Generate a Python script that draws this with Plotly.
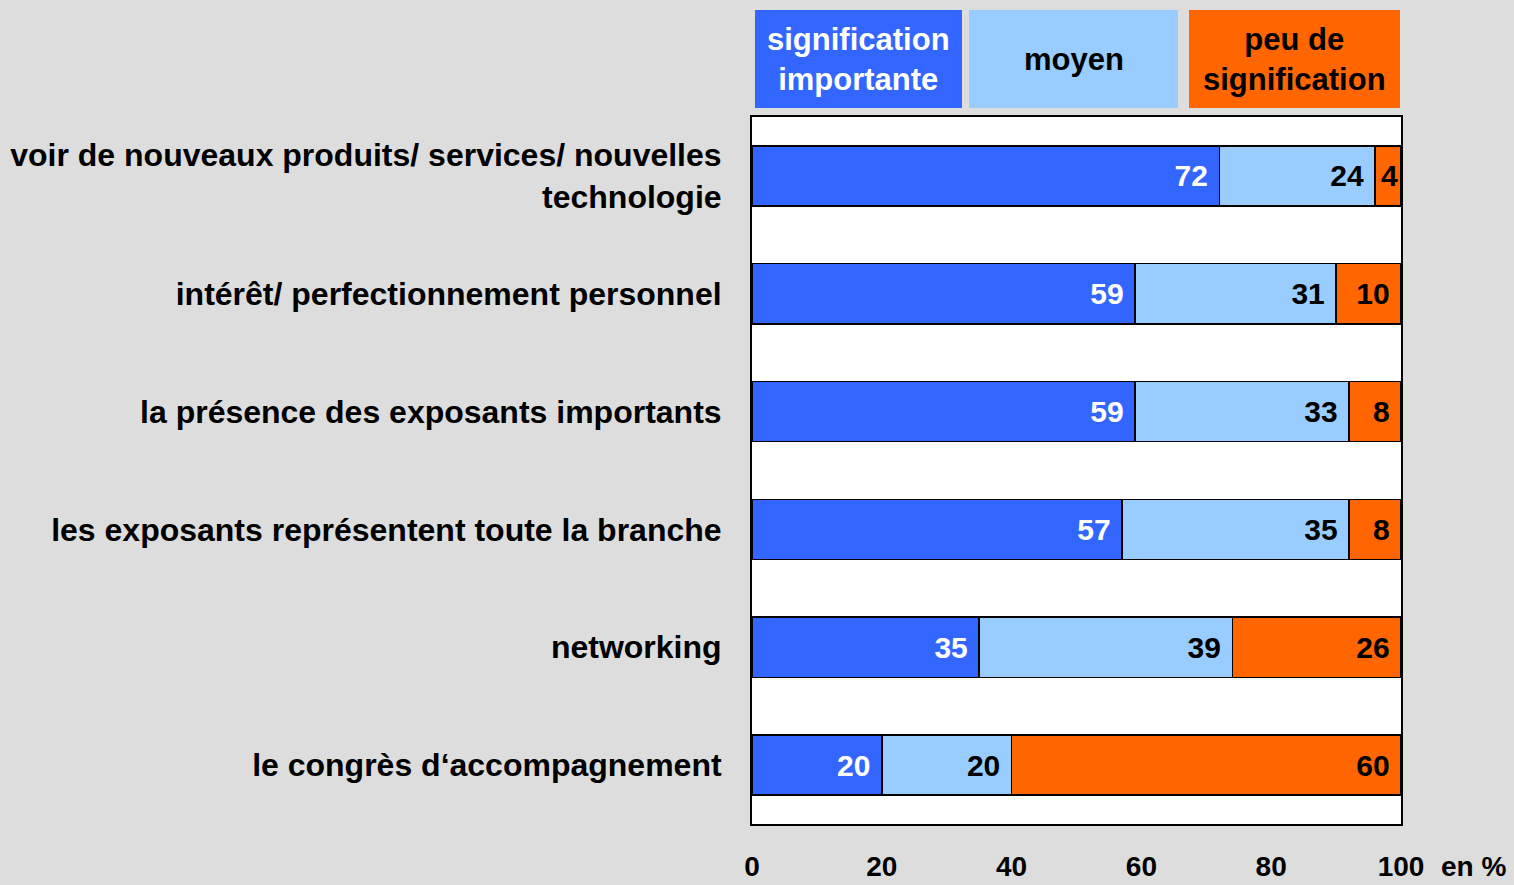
import plotly.graph_objects as go

categories = [
    "voir de nouveaux produits/ services/ nouvelles<br>technologie",
    "intérêt/ perfectionnement personnel",
    "la présence des exposants importants",
    "les exposants représentent toute la branche",
    "networking",
    "le congrès d‘accompagnement",
]
series_names = ["signification<br>importante", "moyen", "peu de<br>signification"]
important = [72, 59, 59, 57, 35, 20]
moyen = [24, 31, 33, 35, 39, 20]
peu = [4, 10, 8, 8, 26, 60]
x_ticks = [0, 20, 40, 60, 80, 100]
x_ticktext = ["0", "20", "40", "60", "80", "100"]

colors = ["#3366FF", "#99CCFF", "#FF6600"]
text_colors = ["white", "black", "black"]
FONT = "Liberation Sans, Arial, sans-serif"

fig = go.Figure()
for vals, name, col, tcol in zip([important, moyen, peu], series_names, colors, text_colors):
    fig.add_trace(go.Bar(
        y=categories, x=vals, orientation="h", name=name,
        marker=dict(color=col, line=dict(color="black", width=1.5)),
        text=[f"{v}&nbsp;" if v >= 8 else str(v) for v in vals],
        textposition="inside", insidetextanchor="end",
        constraintext="none",
        textfont=dict(family=FONT, size=30, color=tcol, weight="bold"),
        width=0.51, showlegend=False, cliponaxis=False,
    ))

fig.update_layout(
    barmode="stack",
    width=1514, height=885,
    margin=dict(l=752, r=113, t=117, b=61, autoexpand=False),
    paper_bgcolor="#DDDDDD", plot_bgcolor="white",
    font=dict(family=FONT, color="black"),
)
fig.update_yaxes(
    autorange="reversed", showgrid=False, ticks="", automargin=False,
    ticklabelstandoff=22,
    tickfont=dict(family=FONT, size=32, color="black", weight="bold"),
    showline=True, linecolor="black", linewidth=2, mirror=True,
)
fig.update_xaxes(
    range=[0, 100], tickvals=x_ticks, ticktext=x_ticktext, showgrid=False,
    ticks="", ticklabelstandoff=16, automargin=False,
    tickfont=dict(family=FONT, size=28, color="black", weight="bold"),
    showline=True, linecolor="black", linewidth=2, mirror=True, zeroline=False,
)
fig.add_annotation(x=1, y=0, xref="paper", yref="paper", xanchor="left", yanchor="middle",
                   xshift=38, yshift=-42, text="en %", showarrow=False,
                   font=dict(family=FONT, size=28, color="black", weight="bold"))

# legend boxes
boxes = [(755, 962), (969, 1178), (1189, 1400)]
for (x0, x1), name, col, tcol in zip(boxes, series_names, colors, text_colors):
    fig.add_shape(type="rect", xref="paper", yref="paper",
                  x0=(x0 - 752) / 649, x1=(x1 - 752) / 649,
                  y0=(824 - 108) / 707, y1=(824 - 10) / 707,
                  fillcolor=col, line=dict(width=0), layer="above")
    fig.add_annotation(x=((x0 + x1) / 2 - 752) / 649, y=(824 - 60) / 707,
                       xref="paper", yref="paper", xanchor="center", yanchor="middle",
                       text=name, showarrow=False,
                       font=dict(family=FONT, size=31, color=tcol, weight="bold"))

fig.write_html("out.html", config={"displayModeBar": False},
               post_script="document.body.style.margin='0';document.body.style.padding='0';")
